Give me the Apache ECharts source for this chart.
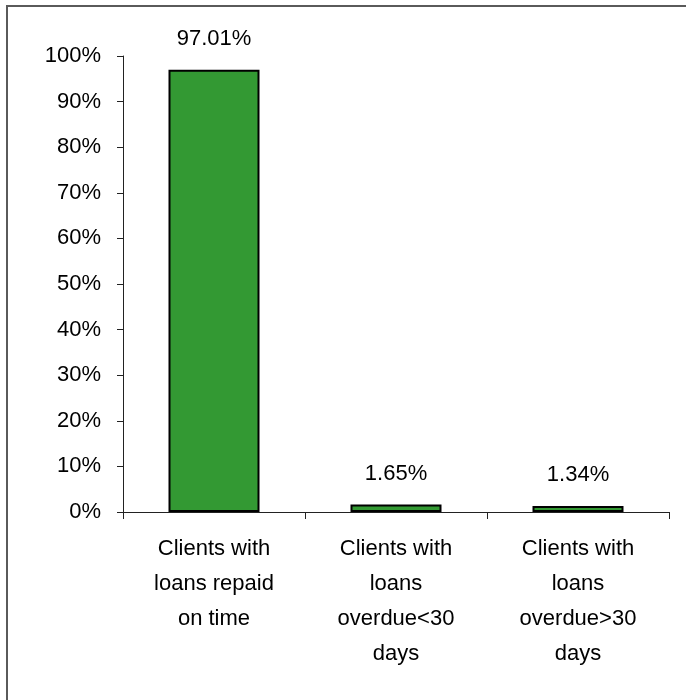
<!DOCTYPE html>
<html>
<head>
<meta charset="utf-8">
<script src="https://cdn.jsdelivr.net/npm/echarts@6/dist/echarts.min.js"></script>
<style>
html,body{margin:0;padding:0;background:#fff;}
#chart{width:686px;height:700px;}
</style>
</head>
<body>
<div id="chart"></div>
<script>
var categories = [
  "Clients with\nloans repaid\non time",
  "Clients with\nloans\noverdue<30\ndays",
  "Clients with\nloans\noverdue>30\ndays"
];
var values = [97.01, 1.65, 1.34];
var yTicks = { min: 0, max: 100, interval: 10 };

var chart = echarts.init(document.getElementById('chart'), null, { renderer: 'canvas' });
var font = '"Liberation Sans", Arial, sans-serif';
chart.setOption({
  animation: false,
  backgroundColor: '#ffffff',
  graphic: [{
    type: 'rect',
    shape: { x: 7, y: 6, width: 900, height: 900 },
    style: { fill: 'none', stroke: '#5a5a5a', lineWidth: 2 },
    silent: true
  }],
  grid: { left: 123, right: 17, top: 56, bottom: 188, containLabel: false },
  xAxis: {
    type: 'category',
    data: categories,
    axisLine: { show: true, lineStyle: { color: '#222', width: 1 } },
    axisTick: { show: true, alignWithLabel: false, length: 7, lineStyle: { color: '#222' } },
    axisLabel: {
      interval: 0,
      margin: 19,
      color: '#000',
      fontFamily: font,
      fontSize: 22,
      lineHeight: 35
    },
    splitLine: { show: false }
  },
  yAxis: {
    type: 'value',
    min: yTicks.min,
    max: yTicks.max,
    interval: yTicks.interval,
    axisLine: { show: true, lineStyle: { color: '#222', width: 1 } },
    axisTick: { show: true, inside: false, length: 6, lineStyle: { color: '#222' } },
    axisLabel: {
      margin: 22,
      color: '#000',
      fontFamily: font,
      fontSize: 22,
      formatter: function (v) { return v + '%'; }
    },
    splitLine: { show: false }
  },
  series: [{
    type: 'bar',
    data: values,
    barWidth: 91,
    itemStyle: { color: '#339933', borderColor: '#000', borderWidth: 2 },
    label: {
      show: true,
      position: 'top',
      distance: 20,
      color: '#000',
      fontFamily: font,
      fontSize: 22,
      formatter: function (p) { return p.value.toFixed(2) + '%'; }
    }
  }]
});
</script>
</body>
</html>
